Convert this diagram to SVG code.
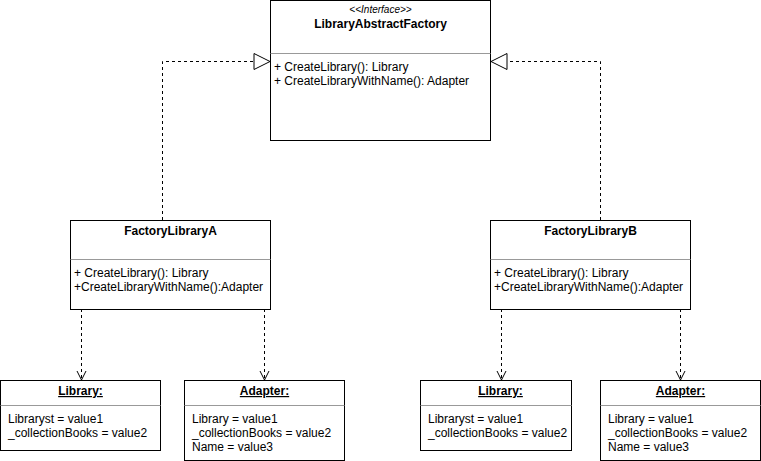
<svg xmlns="http://www.w3.org/2000/svg" width="761" height="461" viewBox="0 0 761 461">
<defs>
<style>
.box{fill:#fff;stroke:#000;stroke-width:1}
.div{stroke:#999;stroke-width:1}
.t{font-family:"Liberation Sans",Arial,sans-serif;font-size:12px;fill:#000}
.b{font-weight:bold}
.c{text-anchor:middle}
.e{stroke:#000;stroke-width:1;stroke-dasharray:3,3;fill:none}
.tri{fill:#fff;stroke:#000;stroke-width:1}
.open{fill:none;stroke:#000;stroke-width:1}
</style>
</defs>
<rect width="761" height="461" fill="#fff"/>
<g id="connectors">
<path class="e" d="M162.5 220 V61.5 H254"/>
<polygon class="tri" points="270,61.5 254,53.5 254,69.5"/>
<path class="e" d="M600.5 220 V61.5 H507"/>
<polygon class="tri" points="491,61.5 507,53.5 507,69.5"/>
<path class="e" d="M81.5 309 V379"/>
<path class="open" d="M77 371 L81.5 380 L86 371"/>
<path class="e" d="M264.5 309 V379"/>
<path class="open" d="M260 371 L264.5 380 L269 371"/>
<path class="e" d="M501.5 309 V379"/>
<path class="open" d="M497 371 L501.5 380 L506 371"/>
<path class="e" d="M680.5 309 V379"/>
<path class="open" d="M676 371 L680.5 380 L685 371"/>
</g>
<g id="LibraryAbstractFactory">
<rect class="box" x="270.5" y="0.5" width="220" height="140"/>
<line class="div" x1="270.5" y1="53.5" x2="490.5" y2="53.5"/>
<text class="t c" x="380.5" y="13" style="font-style:italic;font-size:10px">&lt;&lt;Interface&gt;&gt;</text>
<text class="t c b" x="380.5" y="28">LibraryAbstractFactory</text>
<text class="t" x="274" y="71">+ CreateLibrary(): Library</text>
<text class="t" x="274" y="85">+ CreateLibraryWithName(): Adapter</text>
</g>
<g id="FactoryLibraryA">
<rect class="box" x="70.5" y="220.5" width="200" height="89"/>
<line class="div" x1="70.5" y1="259.5" x2="270.5" y2="259.5"/>
<text class="t c b" x="170.5" y="235">FactoryLibraryA</text>
<text class="t" x="74" y="277">+ CreateLibrary(): Library</text>
<text class="t" x="74" y="291">+CreateLibraryWithName():Adapter</text>
</g>
<g id="FactoryLibraryB">
<rect class="box" x="490.5" y="220.5" width="200" height="89"/>
<line class="div" x1="490.5" y1="259.5" x2="690.5" y2="259.5"/>
<text class="t c b" x="590.5" y="235">FactoryLibraryB</text>
<text class="t" x="494" y="277">+ CreateLibrary(): Library</text>
<text class="t" x="494" y="291">+CreateLibraryWithName():Adapter</text>
</g>
<g id="LibraryA">
<rect class="box" x="0.5" y="380.5" width="160" height="70"/>
<line class="div" x1="0.5" y1="405.5" x2="160.5" y2="405.5"/>
<text class="t c b" x="80.5" y="395" text-decoration="underline">Library:</text>
<text class="t" x="8" y="423">Libraryst = value1</text>
<text class="t" x="8" y="437">_collectionBooks = value2</text>
</g>
<g id="AdapterA">
<rect class="box" x="184.5" y="380.5" width="160" height="80"/>
<line class="div" x1="184.5" y1="405.5" x2="344.5" y2="405.5"/>
<text class="t c b" x="264.5" y="395" text-decoration="underline">Adapter:</text>
<text class="t" x="192" y="423">Library = value1</text>
<text class="t" x="192" y="437">_collectionBooks = value2</text>
<text class="t" x="192" y="451">Name = value3</text>
</g>
<g id="LibraryB">
<rect class="box" x="420.5" y="380.5" width="151" height="70"/>
<line class="div" x1="420.5" y1="405.5" x2="571.5" y2="405.5"/>
<text class="t c b" x="500.5" y="395" text-decoration="underline">Library:</text>
<text class="t" x="428" y="423">Libraryst = value1</text>
<text class="t" x="428" y="437">_collectionBooks = value2</text>
</g>
<g id="AdapterB">
<rect class="box" x="600.5" y="380.5" width="160" height="80"/>
<line class="div" x1="600.5" y1="405.5" x2="760.5" y2="405.5"/>
<text class="t c b" x="680.5" y="395" text-decoration="underline">Adapter:</text>
<text class="t" x="608" y="423">Library = value1</text>
<text class="t" x="608" y="437">_collectionBooks = value2</text>
<text class="t" x="608" y="451">Name = value3</text>
</g>
</svg>
